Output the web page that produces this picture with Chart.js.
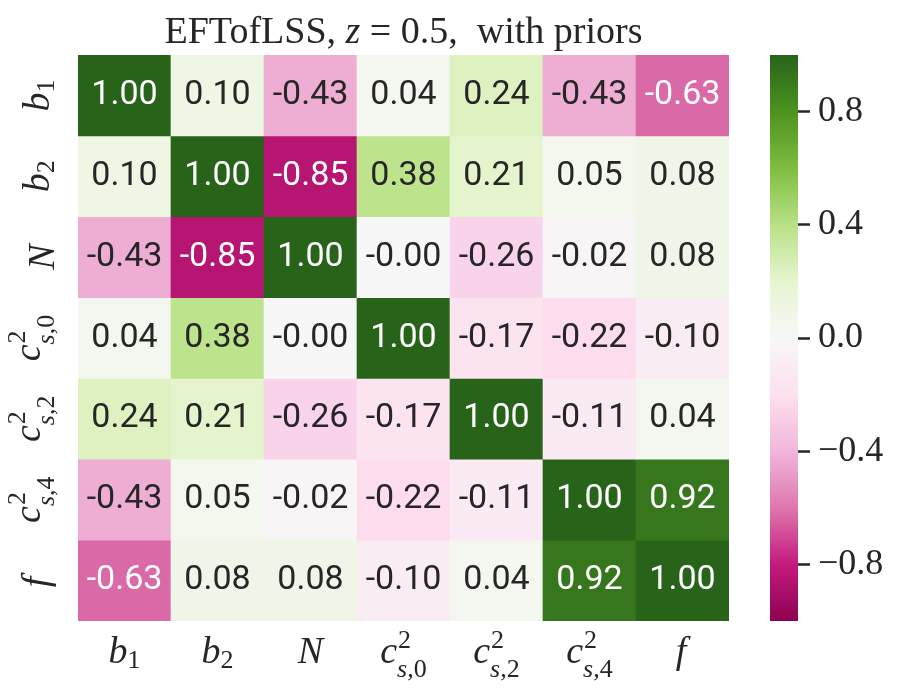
<!DOCTYPE html>
<html>
<head>
<meta charset="utf-8">
<script src="https://cdn.jsdelivr.net/npm/chart.js@4.4.0/dist/chart.umd.min.js"></script>
<style>
  html, body { margin: 0; padding: 0; background: #fff; }
  #wrap { position: relative; width: 906px; height: 700px; }
  #heat { position: absolute; left: 0; top: 0; }
  #cbar { position: absolute; left: 740px; top: 0; }
</style>
</head>
<body>
<div id="wrap">
  <canvas id="heat" width="906" height="700"></canvas>
  <canvas id="cbar" width="166" height="700"></canvas>
</div>
<script>
// parameter names (same order on both axes), written as little TeX strings
const paramLabels = ["b_1", "b_2", "N", "c^2_{s,0}", "c^2_{s,2}", "c^2_{s,4}", "f"];

// correlation matrix, one row per parameter
const rowB1  = [ 1.00,  0.10, -0.43,  0.04,   0.24,  -0.43, -0.63];
const rowB2  = [ 0.10,  1.00, -0.85,  0.38,   0.21,   0.05,  0.08];
const rowN   = [-0.43, -0.85,  1.00, -0.001, -0.26,  -0.02,  0.08];
const rowCs0 = [ 0.04,  0.38, -0.001, 1.00,  -0.17,  -0.22, -0.10];
const rowCs2 = [ 0.24,  0.21, -0.26, -0.17,   1.00,  -0.11,  0.04];
const rowCs4 = [-0.43,  0.05, -0.02, -0.22,  -0.11,   1.00,  0.92];
const rowF   = [-0.63,  0.08,  0.08, -0.10,   0.04,   0.92,  1.00];
const corrRows = [rowB1, rowB2, rowN, rowCs0, rowCs2, rowCs4, rowF];

// colorbar
const cbarMin = -1;
const cbarMax = 1;
const cbarTicks = [-0.8, -0.4, 0.0, 0.4, 0.8];

const titleParts = [["EFTofLSS, ", false], ["z", true], [" = 0.5,  with priors", false]];

// matplotlib PiYG (colorbrewer, 11 stops)
const PIYG = [
  [142, 1, 82], [197, 27, 125], [222, 119, 174], [241, 182, 218], [253, 224, 239],
  [247, 247, 247], [230, 245, 208], [184, 225, 134], [127, 188, 65], [77, 146, 33], [39, 100, 25]
];

const TEXT = "#262626";
const SERIF = '"Liberation Serif", "DejaVu Serif", serif';

function piygRgb(v) {
  let t = (v - cbarMin) / (cbarMax - cbarMin);
  t = Math.min(1, Math.max(0, t)) * (PIYG.length - 1);
  const i = Math.min(Math.floor(t), PIYG.length - 2);
  const f = t - i;
  const a = PIYG[i], b = PIYG[i + 1];
  return a.map((c, k) => Math.round(c + (b[k] - c) * f));
}
function piyg(v) {
  const c = piygRgb(v);
  return `rgb(${c[0]},${c[1]},${c[2]})`;
}
// same rule seaborn uses to pick annotation colour
function textColorFor(v) {
  const lin = piygRgb(v).map(c => {
    c /= 255;
    return c <= 0.03928 ? c / 12.92 : Math.pow((c + 0.055) / 1.055, 2.4);
  });
  const lum = 0.2126 * lin[0] + 0.7152 * lin[1] + 0.0722 * lin[2];
  return lum > 0.408 ? TEXT : "#ffffff";
}

/* ---------- small math label renderer ---------- */
function parseMath(s) {
  const m = s.match(/^([A-Za-z])(?:\^(\{[^}]*\}|.))?(?:_(\{[^}]*\}|.))?$/);
  const strip = t => (t ? t.replace(/[{}]/g, "") : "");
  return { base: m[1], sup: strip(m[2]), sub: strip(m[3]) };
}
function runFont(ch, size) {
  return (/[A-Za-z]/.test(ch) ? "italic " : "") + size + "px " + SERIF;
}
function runWidth(ctx, txt, size) {
  let w = 0;
  for (const ch of txt) { ctx.font = runFont(ch, size); w += ctx.measureText(ch).width; }
  return w;
}
function drawRun(ctx, txt, size, x, y) {
  for (const ch of txt) {
    ctx.font = runFont(ch, size);
    ctx.fillText(ch, x, y);
    x += ctx.measureText(ch).width;
  }
}
const BIG = 38, SMALL = 26;
function mathDepth(p) {
  if (p.sub) return p.sup ? 14 : 5;
  return p.base === "f" ? 6 : 0;
}
// draws label centred on x with baseline at y
function drawMath(ctx, label, x, y) {
  const p = parseMath(label);
  const wBase = runWidth(ctx, p.base, BIG) + (p.base === "f" ? 3 : 0);
  const wSup = runWidth(ctx, p.sup, SMALL);
  const wSub = runWidth(ctx, p.sub, SMALL);
  const total = wBase + Math.max(wSup, wSub);
  const x0 = x - total / 2;
  drawRun(ctx, p.base, BIG, x0, y);
  if (p.sup) drawRun(ctx, p.sup, SMALL, x0 + wBase + 1, y - 15);
  if (p.sub) drawRun(ctx, p.sub, SMALL, x0 + wBase, y + mathDepth(p));
}

/* ---------- plugins ---------- */
const cellTextPlugin = {
  id: "cellText",
  afterDatasetsDraw(chart) {
    const ctx = chart.ctx;
    ctx.save();
    ctx.font = '34px Roboto, "Open Sans", sans-serif';
    ctx.textAlign = "center";
    ctx.textBaseline = "middle";
    chart.data.datasets.forEach((ds, r) => {
      chart.getDatasetMeta(r).data.forEach((bar, c) => {
        const v = ds.corr[c];
        const { x, y, base } = bar.getProps(["x", "y", "base"], true);
        ctx.fillStyle = textColorFor(v);
        ctx.fillText(v.toFixed(2), x, (y + base) / 2);
      });
    });
    ctx.restore();
  }
};

const mathTicksPlugin = {
  id: "mathTicks",
  afterDraw(chart) {
    const ctx = chart.ctx;
    const xs = chart.scales.x, ys = chart.scales.y, area = chart.chartArea;
    ctx.save();
    ctx.fillStyle = TEXT;
    ctx.textAlign = "left";
    ctx.textBaseline = "alphabetic";
    // bottom labels
    paramLabels.forEach((lab, i) => {
      drawMath(ctx, lab, xs.getPixelForValue(i), area.bottom + 42);
    });
    // left labels, rotated
    paramLabels.forEach((lab, i) => {
      const p = parseMath(lab);
      ctx.save();
      ctx.translate(area.left - 24 - mathDepth(p), ys.getPixelForValue(i + 0.5));
      ctx.rotate(-Math.PI / 2);
      drawMath(ctx, lab, 0, 0);
      ctx.restore();
    });
    // title
    const tFont = it => (it ? "italic " : "") + "38px " + SERIF;
    let w = 0;
    titleParts.forEach(([t, it]) => { ctx.font = tFont(it); w += ctx.measureText(t).width; });
    let x = (area.left + area.right) / 2 - w / 2;
    titleParts.forEach(([t, it]) => {
      ctx.font = tFont(it);
      ctx.fillText(t, x, 43);
      x += ctx.measureText(t).width;
    });
    ctx.restore();
  }
};

/* ---------- heatmap ---------- */
const heatDatasets = corrRows.map((row, r) => ({
  label: paramLabels[r],
  corr: row,
  data: row.map(() => [r, r + 1]),
  backgroundColor: row.map(piyg),
  borderWidth: 0,
  barPercentage: 1,
  categoryPercentage: 1,
  grouped: false
}));

new Chart(document.getElementById("heat"), {
  type: "bar",
  data: { labels: paramLabels, datasets: heatDatasets },
  options: {
    responsive: false,
    animation: false,
    layout: { padding: { left: 78, right: 177, top: 55, bottom: 79 } },
    plugins: { legend: { display: false }, tooltip: { enabled: false }, title: { display: false } },
    scales: {
      x: { type: "category", display: false },
      y: { type: "linear", min: 0, max: paramLabels.length, reverse: true, display: false }
    }
  },
  plugins: [cellTextPlugin, mathTicksPlugin]
});

/* ---------- colorbar ---------- */
new Chart(document.getElementById("cbar"), {
  type: "bar",
  data: {
    labels: [""],
    datasets: [{
      data: [[cbarMin, cbarMax]],
      borderWidth: 0,
      barPercentage: 1,
      categoryPercentage: 1,
      backgroundColor(context) {
        const chart = context.chart;
        const y = chart.scales.y;
        if (!chart.chartArea || !y) return null;
        const g = chart.ctx.createLinearGradient(0, y.getPixelForValue(cbarMin), 0, y.getPixelForValue(cbarMax));
        PIYG.forEach((c, i) => g.addColorStop(i / (PIYG.length - 1), `rgb(${c[0]},${c[1]},${c[2]})`));
        return g;
      }
    }]
  },
  options: {
    responsive: false,
    animation: false,
    layout: { padding: { left: 30, right: 0, top: 55, bottom: 79 } },
    plugins: { legend: { display: false }, tooltip: { enabled: false } },
    scales: {
      x: { display: false },
      y: {
        position: "right",
        min: cbarMin,
        max: cbarMax,
        afterBuildTicks: axis => { axis.ticks = cbarTicks.map(v => ({ value: v })); },
        afterFit: axis => { axis.width = 108; },
        border: { display: false },
        grid: { drawOnChartArea: false, drawTicks: true, tickLength: 12, tickWidth: 2.5, tickColor: TEXT },
        ticks: {
          padding: 8,
          color: TEXT,
          font: { family: SERIF, size: 36 },
          callback: v => (v < 0 ? "\u2212" : "") + Math.abs(v).toFixed(1)
        }
      }
    }
  }
});
</script>
</body>
</html>
